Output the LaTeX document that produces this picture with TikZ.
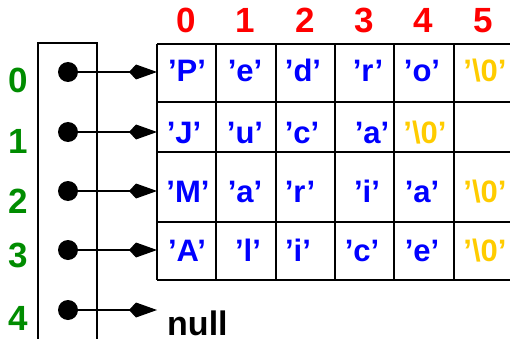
\documentclass[tikz,border=0pt]{standalone}
\usepackage{fontspec}
\setmainfont{Liberation Sans}
\usetikzlibrary{arrows.meta}

\definecolor{idxred}{RGB}{255,0,0}
\definecolor{idxgreen}{RGB}{0,140,0}
\definecolor{chblue}{RGB}{0,0,255}
\definecolor{termgold}{RGB}{255,204,0}

\begin{document}
\begin{tikzpicture}[
    x=1pt, y=-1pt,
    % Define the style for the pointer dots (big filled circles)
    dot/.style={circle, fill=black, inner sep=0pt, minimum size=20pt},
    % Define the style for pointers (thin line, kite head)
    ptr/.style={line width=1.2pt, -{Kite[length=28pt, width=15pt, inset=7pt]}},
    % Define the style for the box lines
    box/.style={line width=1.5pt},
    grid/.style={line width=1.8pt},
    % Font settings
    colnum/.style={text=idxred, anchor=base, inner sep=0pt, font=\fontsize{35}{40}\selectfont\bfseries},
    rownum/.style={text=idxgreen, anchor=base, inner sep=0pt, font=\fontsize{35}{40}\selectfont\bfseries},
    chr/.style={text=chblue, anchor=base, inner sep=0pt, font=\fontsize{31}{36}\selectfont\bfseries},
    term/.style={chr, text=termgold}
]
    \clip (0,0) rectangle (510,339);

    % --- Pointer array on the left ---
    \draw[box] (38,360) -- (38,43) -- (97,43) -- (97,360);

    \node[rownum] (r0) at (18,93)  {0};
    \node[rownum] (r1) at (18,153) {1};
    \node[rownum] (r2) at (18,213) {2};
    \node[rownum] (r3) at (18,267) {3};
    \node[rownum] (r4) at (18,330) {4};

    \node[dot] (p0) at (68,72)  {};
    \node[dot] (p1) at (68,132) {};
    \node[dot] (p2) at (68,191) {};
    \node[dot] (p3) at (68,250) {};
    \node[dot] (p4) at (68,310) {};

    % --- Character rows ---
    % horizontal lines
    \draw[grid] (157,44)  -- (520,44);
    \draw[grid] (157,102) -- (520,102);
    \draw[grid] (157,152) -- (520,152);
    \draw[grid] (157,222) -- (520,222);
    \draw[grid] (157,280) -- (520,280);
    % vertical lines
    \foreach \x in {157,216,276,335,394,454}
        \draw[grid] (\x,44) -- (\x,280);

    % column numbers
    \node[colnum] (k0) at (186,33) {0};
    \node[colnum] (k1) at (245,33) {1};
    \node[colnum] (k2) at (305,33) {2};
    \node[colnum] (k3) at (364,33) {3};
    \node[colnum] (k4) at (423,33) {4};
    \node[colnum] (k5) at (483,33) {5};

    % row 0
    \node[chr]  (c00) at (187,82) {'P'};
    \node[chr]  (c01) at (245,82) {'e'};
    \node[chr]  (c02) at (303,82) {'d'};
    \node[chr]  (c03) at (368,82) {'r'};
    \node[chr]  (c04) at (422,82) {'o'};
    \node[term] (c05) at (485,82) {'\textbackslash 0'};

    % row 1
    \node[chr]  (c10) at (184,143) {'J'};
    \node[chr]  (c11) at (245,143) {'u'};
    \node[chr]  (c12) at (302,143) {'c'};
    \node[chr]  (c13) at (372,143) {'a'};
    \node[term] (c14) at (425,143) {'\textbackslash 0'};

    % row 2
    \node[chr]  (c20) at (188,202) {'M'};
    \node[chr]  (c21) at (245,202) {'a'};
    \node[chr]  (c22) at (300,202) {'r'};
    \node[chr]  (c23) at (367,202) {'i'};
    \node[chr]  (c24) at (422,202) {'a'};
    \node[term] (c25) at (485,202) {'\textbackslash 0'};

    % row 3
    \node[chr]  (c30) at (187,261) {'A'};
    \node[chr]  (c31) at (248,261) {'l'};
    \node[chr]  (c32) at (298,261) {'i'};
    \node[chr]  (c33) at (362,261) {'c'};
    \node[chr]  (c34) at (422,261) {'e'};
    \node[term] (c35) at (485,261) {'\textbackslash 0'};

    % null entry
    \node[anchor=base west, inner sep=0pt, font=\fontsize{34}{40}\selectfont\bfseries] (nul) at (167,335) {null};

    % --- Pointers ---
    \coordinate (t0) at (157,72);
    \coordinate (t1) at (157,132);
    \coordinate (t2) at (157,191);
    \coordinate (t3) at (157,250);
    \coordinate (t4) at (157,310);

    \draw[ptr] (p0.center) -- (t0);
    \draw[ptr] (p1.center) -- (t1);
    \draw[ptr] (p2.center) -- (t2);
    \draw[ptr] (p3.center) -- (t3);
    \draw[ptr] (p4.center) -- (t4);

\end{tikzpicture}
\end{document}
